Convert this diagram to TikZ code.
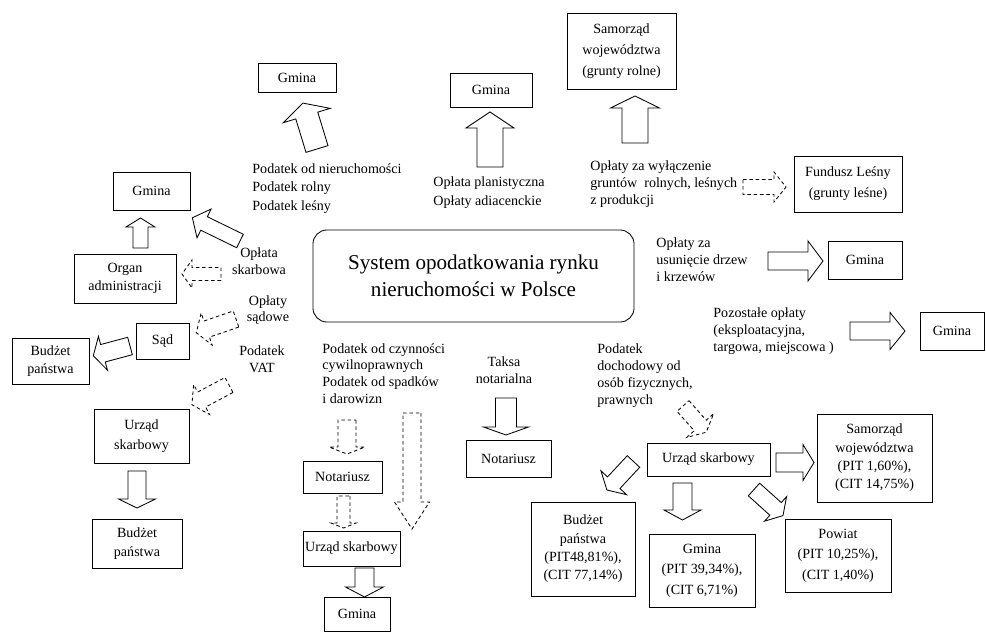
\documentclass[tikz,border=0pt]{standalone}
\usepackage{fontspec}
\setmainfont{Liberation Serif}
\newcommand{\blockarrow}[7][]{%
  \draw[#1,shift={(#2)},rotate=#3] (0,-#5/2) -- (#4-#7,-#5/2) -- (#4-#7,-#6/2)
  -- (#4,0) -- (#4-#7,#6/2) -- (#4-#7,#5/2) -- (0,#5/2) -- cycle;}
\begin{document}
\begin{tikzpicture}[x=0.025cm,y=-0.025cm,line width=0.6pt,
  box/.style={draw,align=center,inner sep=1pt,font=\fontsize{10}{13}\selectfont},
  lbl/.style={align=left,anchor=west,inner sep=0pt,font=\fontsize{10}{12}\selectfont},
  clbl/.style={align=center,inner sep=0pt,font=\fontsize{10}{12}\selectfont},
  dsh/.style={dash pattern=on 2.5pt off 2pt}]
  \useasboundingbox (0,0) rectangle (986,644);
  \node[box,rounded corners=0.35cm,minimum width=8.025cm,minimum height=2.3cm,
        font=\fontsize{15}{19}\selectfont] (sys) at (473.5,276)
        {System opodatkowania rynku\\nieruchomości w Polsce};
  \node[box,minimum width=1.95cm,minimum height=0.725cm] (gminaA) at (297,77.5) {Gmina};
  \node[box,minimum width=2.05cm,minimum height=0.85cm] (gminaB) at (491,90) {Gmina};
  \node[box,minimum width=2.725cm,minimum height=1.9cm,font=\fontsize{10}{15}\selectfont]
        (samorzadA) at (621.5,51) {Samorząd\\województwa\\(grunty rolne)};
  \node[box,minimum width=2.7cm,minimum height=1.4cm,font=\fontsize{10}{15}\selectfont]
        (fundusz) at (848,184) {Fundusz Leśny\\(grunty leśne)};
  \node[box,minimum width=1.85cm,minimum height=0.95cm] (gminaC) at (865,260) {Gmina};
  \node[box,minimum width=1.6cm,minimum height=0.95cm] (gminaD) at (952,331) {Gmina};
  \node[box,minimum width=3.075cm,minimum height=0.825cm] (urzadR) at (708.5,459.5) {Urząd skarbowy};
  \node[box,minimum width=2.875cm,minimum height=2.2cm] (samorzadB) at (874.5,458)
        {Samorząd\\województwa\\(PIT 1,60\%),\\(CIT 14,75\%)};
  \node[box,minimum width=2.65cm,minimum height=1.825cm,font=\fontsize{10}{14.5}\selectfont]
        (gminaPit) at (702,570.5) {Gmina\\(PIT 39,34\%),\\(CIT 6,71\%)};
  \node[box,minimum width=2.6cm,minimum height=2.35cm] (budzetR) at (583,549)
        {Budżet\\państwa\\(PIT48,81\%),\\(CIT 77,14\%)};
  \node[box,minimum width=2.65cm,minimum height=1.825cm,font=\fontsize{10}{14.5}\selectfont]
        (powiat) at (838,555.5) {Powiat\\(PIT 10,25\%),\\(CIT 1,40\%)};
  \node[box,minimum width=1.925cm,minimum height=0.95cm] (gminaL) at (151.5,191) {Gmina};
  \node[box,minimum width=2.55cm,minimum height=1.225cm] (organ) at (125,278.5) {Organ\\administracji};
  \node[box,minimum width=1.325cm,minimum height=0.9cm] (sad) at (162.5,341) {Sąd};
  \node[box,minimum width=1.925cm,minimum height=1.15cm] (budzetL) at (50.5,361) {Budżet\\państwa};
  \node[box,minimum width=2.375cm,minimum height=1.35cm,font=\fontsize{10}{14}\selectfont]
        (urzadL) at (141.5,436) {Urząd\\skarbowy};
  \node[box,minimum width=2.25cm,minimum height=1.225cm] (budzetB) at (137,543.5) {Budżet\\państwa};
  \node[box,minimum width=1.975cm,minimum height=0.8cm] (notariuszA) at (342.5,477) {Notariusz};
  \node[box,minimum width=2.425cm,minimum height=0.875cm] (urzadM) at (351.5,548.5) {Urząd skarbowy};
  \node[box,minimum width=1.65cm,minimum height=0.85cm] (gminaM) at (357,614) {Gmina};
  \node[box,minimum width=2.125cm,minimum height=0.925cm] (notariuszB) at (508.5,458.5) {Notariusz};

  \node[lbl,font=\fontsize{10}{13}\selectfont] (nieruch) at (252,188.5)
        {Podatek od nieruchomości\\Podatek rolny\\Podatek leśny};
  \node[lbl,font=\fontsize{10}{13.5}\selectfont] (planist) at (433,192.5)
        {Opłata planistyczna\\Opłaty adiacenckie};
  \node[lbl] (wylacz) at (590,184) {Opłaty za wyłączenie\\gruntów\ \ rolnych, leśnych\\z produkcji};
  \node[lbl] (drzewa) at (656,260) {Opłaty za\\usunięcie drzew\\i krzewów};
  \node[lbl] (pozost) at (713,331) {Pozostałe opłaty\\(eksploatacyjna,\\targowa, miejscowa\ )};
  \node[lbl] (dochod) at (597,375.5) {Podatek\\dochodowy od\\osób fizycznych,\\prawnych};
  \node[lbl] (czynn) at (322,373.5) {Podatek od czynności\\cywilnoprawnych\\Podatek od spadków\\i darowizn};
  \node[clbl] (taksa) at (504,370.5) {Taksa\\notarialna};
  \node[clbl] (skarb) at (259,261.5) {Opłata\\skarbowa};
  \node[clbl] (sadowe) at (268,310) {Opłaty\\sądowe};
  \node[clbl] (vat) at (262,359) {Podatek\\VAT};

  \blockarrow{317,149}{107}{48}{23}{49}{13}
  \blockarrow{490,167}{90}{55}{26}{48}{16}
  \blockarrow{635,143}{90}{47}{26}{49}{12}
  \blockarrow[dsh]{743,187}{0}{43}{15}{30}{12}
  \blockarrow{768,261}{0}{55}{18}{40}{15}
  \blockarrow{850,331}{0}{55}{18}{37}{15}
  \blockarrow[dsh]{683,406}{-48.5}{35}{16}{36}{9}
  \blockarrow{776,462.5}{0}{38}{19}{36}{11}
  \blockarrow{682.5,483}{-90}{37}{19}{37}{10}
  \blockarrow{633.5,461.5}{227}{39}{17}{35}{10}
  \blockarrow{754,489.5}{-42}{39}{17}{33}{10}
  \blockarrow{240,241}{154}{53}{15}{32}{13}
  \blockarrow{140.5,248}{90}{30}{15}{29}{9}
  \blockarrow[dsh]{221,274}{180}{39}{13}{28}{10}
  \blockarrow[dsh]{236,319}{199}{42}{17}{34}{11}
  \blockarrow{130,346}{195}{38}{18}{35}{10}
  \blockarrow[dsh]{229,385}{208}{42}{17}{34}{11}
  \blockarrow{137,471}{-90}{37}{18}{37}{9}
  \blockarrow[dsh]{347,420}{-90}{34}{18}{36}{7}
  \blockarrow[dsh]{412,413}{-90}{116}{18}{35}{27}
  \blockarrow[dsh]{343.5,496}{-90}{32}{13}{25}{5}
  \blockarrow{364.5,568}{-90}{29}{19}{38}{10}
  \blockarrow{506,398}{-90}{37}{21}{45}{8}
\end{tikzpicture}
\end{document}
